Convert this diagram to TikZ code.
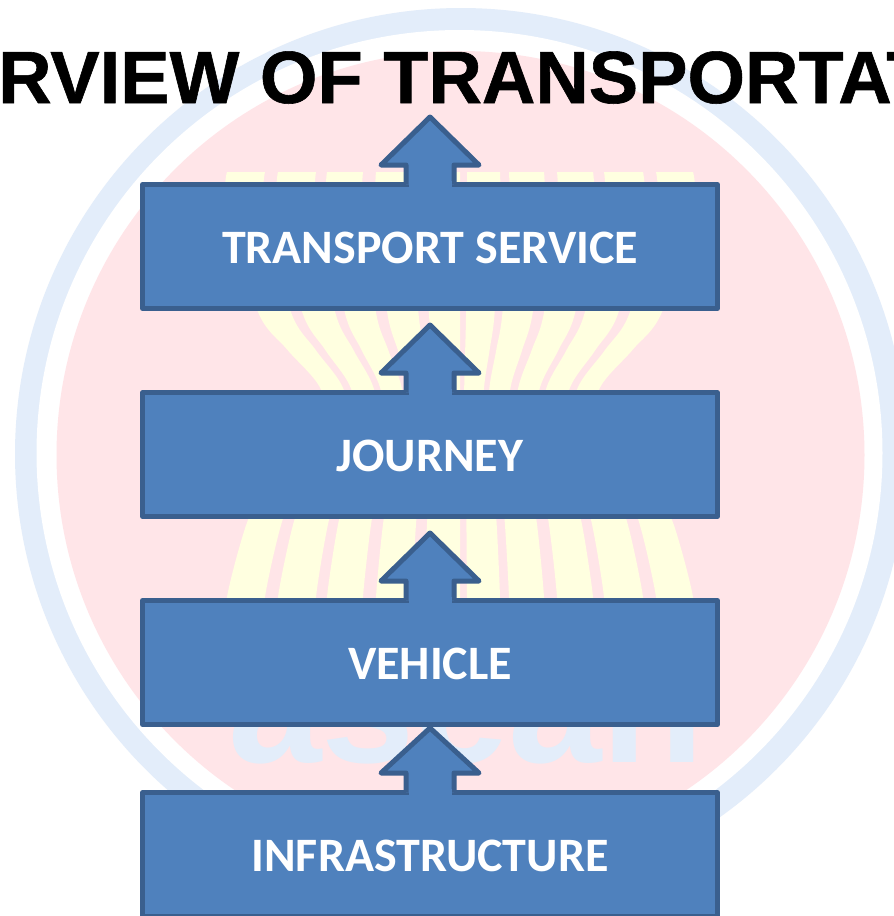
\documentclass[tikz,border=0pt]{standalone}
\usepackage{fontspec}
\setmainfont{Carlito}
\newfontfamily\titlefont[BoldFeatures={FakeBold=0.8}]{Liberation Sans}
\newfontfamily\logofont{Liberation Sans}
\usetikzlibrary{positioning}
\definecolor{blockblue}{HTML}{4F81BD}
\definecolor{blockedge}{HTML}{3A5F8E}
\definecolor{ringblue}{HTML}{E3EDFA}
\definecolor{discpink}{HTML}{FFE5E8}
\definecolor{stalkyellow}{HTML}{FFFFE0}
\tikzset{
  layerbox/.style={draw=blockedge, fill=blockblue, line width=5pt, line join=round,
    minimum width=575pt, minimum height=124pt, text=white, text height=33pt, text depth=0pt,
    inner sep=0pt, font=\fontsize{48}{48}\selectfont\bfseries},
  blockarrow/.style={draw=blockedge, fill=blockblue, line width=5pt, line join=round}
}
% one paddy stalk, top edges given in px
\newcommand{\stalk}[2]{\fill[stalkyellow] plot[smooth] coordinates {(#1,172) (#1,205) ({460+(#1-460)*0.867},312) ({460+(#1-460)*0.74},350) ({460+(#1-460)*0.6},388) ({460+(#1-460)*0.55},440) ({460+(#1-460)*0.82},490) ({460+(#1-460)*0.91},520) ({460+(#1-460)*1.0},597) ({460+(#1-460)*1.0},640)} -- plot[smooth] coordinates {({460+(#2-460)*1.0},640) ({460+(#2-460)*1.0},597) ({460+(#2-460)*0.91},520) ({460+(#2-460)*0.82},490) ({460+(#2-460)*0.55},440) ({460+(#2-460)*0.6},388) ({460+(#2-460)*0.74},350) ({460+(#2-460)*0.867},312) (#2,205) (#2,172)} -- cycle;}
\begin{document}
\begin{tikzpicture}[x=1pt,y=-1pt]
\clip (0,0) rectangle (894,916);
\fill[white] (0,0) rectangle (894,916);
\fill[ringblue] (461,454) circle (446);
\fill[white] (459.5,453) circle (423);
\fill[discpink] (460.5,455) circle (404);
\stalk{227}{265}
\stalk{278}{316}
\stalk{327}{363}
\stalk{376}{412}
\stalk{424}{460}
\stalk{467}{500}
\stalk{509}{544}
\stalk{557}{593}
\stalk{604}{643}
\stalk{656}{693}
\node[anchor=base west, inner sep=0pt, text=ringblue, font=\logofont\fontsize{168}{168}\selectfont\bfseries] (asean) at (228,762) {asean};
\node[anchor=base west, inner sep=0pt, font=\titlefont\fontsize{74}{74}\selectfont\bfseries] (heading) at (-2,103) {RVIEW OF TRANSPORTAT};
\node[layerbox] (service) at (430,246.5) {TRANSPORT SERVICE};
\node[layerbox] (journey) at (430,454.5) {JOURNEY};
\node[layerbox] (vehicle) at (430,662.5) {VEHICLE};
\node[layerbox] (infra) at (430,854.5) {INFRASTRUCTURE};
\draw[blockarrow] (service.north) ++(-24,2.5) -- ++(0,-19.5) -- ++(-25,0) -- ++(49,-48) -- ++(49,48) -- ++(-25,0) -- ++(0,19.5);
\fill[blockblue] (service.north) ++(-21.5,-1) rectangle ++(43,6);
\draw[blockarrow] (journey.north) ++(-24,2.5) -- ++(0,-19.5) -- ++(-25,0) -- ++(49,-48) -- ++(49,48) -- ++(-25,0) -- ++(0,19.5);
\fill[blockblue] (journey.north) ++(-21.5,-1) rectangle ++(43,6);
\draw[blockarrow] (vehicle.north) ++(-24,2.5) -- ++(0,-19.5) -- ++(-25,0) -- ++(49,-48) -- ++(49,48) -- ++(-25,0) -- ++(0,19.5);
\fill[blockblue] (vehicle.north) ++(-21.5,-1) rectangle ++(43,6);
\draw[blockarrow] (infra.north) ++(-24,2.5) -- ++(0,-19.5) -- ++(-25,0) -- ++(49,-45) -- ++(49,45) -- ++(-25,0) -- ++(0,19.5);
\fill[blockblue] (infra.north) ++(-21.5,-1) rectangle ++(43,6);
\end{tikzpicture}
\end{document}
